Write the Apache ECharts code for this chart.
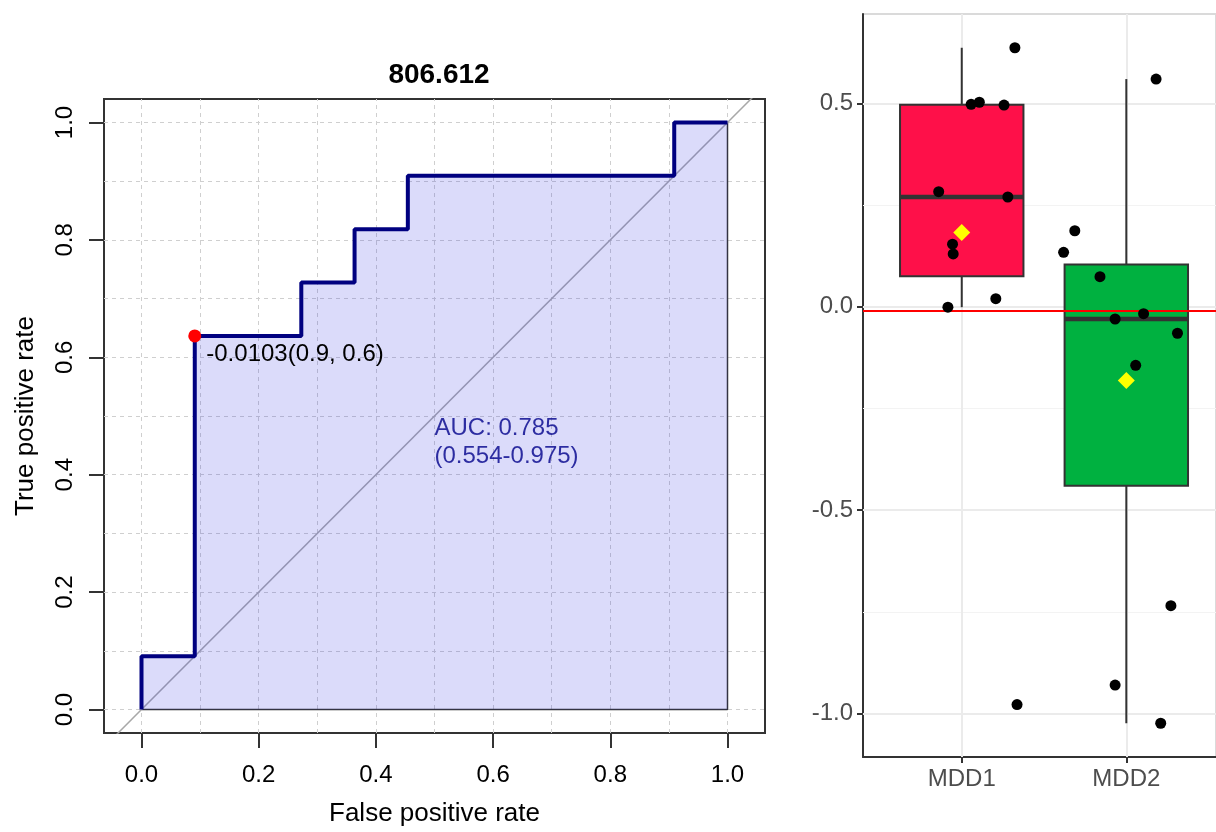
<!DOCTYPE html>
<html>
<head>
<meta charset="utf-8">
<script src="https://cdn.jsdelivr.net/npm/echarts@6/dist/echarts.min.js"></script>
<style>
html,body{margin:0;padding:0;background:#fff;}
#chart{width:1216px;height:832px;}
</style>
</head>
<body>
<div id="chart"></div>
<script>
// ---------- Left panel: ROC curve ----------
const rocTitle = '806.612';
const rocFPR = [0, 0, 0.0909, 0.0909, 0.2727, 0.2727, 0.3636, 0.3636, 0.4545, 0.4545, 0.9091, 0.9091, 1.0];
const rocTPR = [0, 0.0909, 0.0909, 0.6364, 0.6364, 0.7273, 0.7273, 0.8182, 0.8182, 0.9091, 0.9091, 1.0, 1.0];
const bestPoint = [0.0909, 0.6364];
const bestLabel = '-0.0103(0.9, 0.6)';
const aucPos = [0.5, 0.455];
const aucText = 'AUC: 0.785\n(0.554-0.975)';
const rocTicks = [0, 0.2, 0.4, 0.6, 0.8, 1.0];
const rocGridValues = [0, 0.1, 0.2, 0.3, 0.4, 0.5, 0.6, 0.7, 0.8, 0.9, 1.0];
const rocXName = 'False positive rate';
const rocYName = 'True positive rate';

// ---------- Right panel: box plot ----------
const categories = ['MDD1', 'MDD2'];
const boxMin = [-0.001, -1.024];
const boxQ1 = [0.075, -0.440];
const boxMedian = [0.270, -0.030];
const boxQ3 = [0.497, 0.104];
const boxMax = [0.637, 0.560];
const boxMean = [0.183, -0.181];
const boxColors = ['#FE1049', '#00B140'];
const mdd1Jitter = [1.323, 1.057, 1.107, 1.257, 0.860, 1.280, 0.944, 0.948, 0.916, 1.207, 1.336];
const mdd1Values = [0.637, 0.498, 0.503, 0.496, 0.283, 0.270, 0.154, 0.130, -0.001, 0.020, -0.978];
const mdd2Jitter = [2.181, 1.687, 1.619, 1.840, 1.932, 2.105, 2.311, 2.057, 2.271, 1.932, 2.209];
const mdd2Values = [0.560, 0.187, 0.134, 0.074, -0.030, -0.017, -0.065, -0.144, -0.735, -0.930, -1.024];
const threshold = -0.0103;
const boxTicks = [-1.0, -0.5, 0.0, 0.5];
const boxMinorGrid = [-0.75, -0.25, 0.25];

const FONT = 'Liberation Sans, Arial, sans-serif';

const chart = echarts.init(document.getElementById('chart'), null, {renderer: 'canvas'});

const rocData = rocFPR.map((x, i) => [x, rocTPR[i]]);
const last = rocData.length - 1;
const outline = [[rocFPR[0], 0], [rocFPR[last], 0], [rocFPR[last], rocTPR[last]]];

const rocGridLines = [];
rocGridValues.forEach(v => {
  rocGridLines.push({xAxis: v});
  rocGridLines.push({yAxis: v});
});

const boxData = categories.map((c, i) => [i + 1, boxMin[i], boxQ1[i], boxMedian[i], boxQ3[i], boxMax[i]]);
const jitterData = mdd1Jitter.map((x, i) => [x, mdd1Values[i]])
  .concat(mdd2Jitter.map((x, i) => [x, mdd2Values[i]]));
const meanData = boxMean.map((m, i) => [i + 1, m]);

const rightGridLines = []
  .concat(boxTicks.map(v => ({yAxis: v, lineStyle: {color: '#EBEBEB', width: 2, type: 'solid'}})))
  .concat(boxMinorGrid.map(v => ({yAxis: v, lineStyle: {color: '#F3F3F3', width: 1, type: 'solid'}})))
  .concat(categories.map((c, i) => ({xAxis: i + 1, lineStyle: {color: '#EBEBEB', width: 2, type: 'solid'}})));

const option = {
  animation: false,
  backgroundColor: '#ffffff',
  textStyle: {fontFamily: FONT},
  title: {
    text: rocTitle,
    left: 434,
    top: 56,
    textAlign: 'center',
    textStyle: {fontFamily: FONT, fontSize: 28, fontWeight: 'bold', color: '#000'}
  },
  grid: [
    {left: 104, top: 99, width: 661, height: 634, show: true, borderColor: '#333', borderWidth: 2, backgroundColor: 'transparent', containLabel: false},
    {left: 863, top: 14, right: -3, bottom: 75, show: true, borderColor: '#DADADA', borderWidth: 2, backgroundColor: 'transparent', containLabel: false}
  ],
  xAxis: [
    {
      gridIndex: 0, type: 'value', min: -0.064, max: 1.064, position: 'bottom',
      name: rocXName, nameLocation: 'middle', nameGap: 68,
      nameTextStyle: {fontFamily: FONT, fontSize: 26, color: '#000'},
      axisLine: {show: false, onZero: false},
      axisTick: {show: true, customValues: rocTicks, length: 15, lineStyle: {color: '#333', width: 2}},
      axisLabel: {show: true, customValues: rocTicks, margin: 30, fontFamily: FONT, fontSize: 24, color: '#000', formatter: v => v.toFixed(1)},
      splitLine: {show: false}
    },
    {
      gridIndex: 1, type: 'value', min: 0.4, max: 2.545, position: 'bottom',
      axisLine: {show: true, onZero: false, lineStyle: {color: '#333', width: 2}},
      axisTick: {show: true, customValues: [1, 2], length: 6, lineStyle: {color: '#333', width: 2}},
      axisLabel: {show: true, customValues: [1, 2], margin: 10, fontFamily: FONT, fontSize: 24, color: '#4D4D4D', formatter: v => categories[Math.round(v) - 1] || ''},
      splitLine: {show: false}
    }
  ],
  yAxis: [
    {
      gridIndex: 0, type: 'value', min: -0.04, max: 1.04, position: 'left',
      name: rocYName, nameLocation: 'middle', nameGap: 65, nameRotate: 90,
      nameTextStyle: {fontFamily: FONT, fontSize: 26, color: '#000'},
      axisLine: {show: false, onZero: false},
      axisTick: {show: true, customValues: rocTicks, length: 15, lineStyle: {color: '#333', width: 2}},
      axisLabel: {show: true, customValues: rocTicks, rotate: 90, margin: 27, fontFamily: FONT, fontSize: 24, color: '#000', formatter: v => v.toFixed(1)},
      splitLine: {show: false}
    },
    {
      gridIndex: 1, type: 'value', min: -1.107, max: 0.72, position: 'left',
      axisLine: {show: true, onZero: false, lineStyle: {color: '#333', width: 2}},
      axisTick: {show: true, customValues: boxTicks, length: 6, lineStyle: {color: '#333', width: 2}},
      axisLabel: {show: true, customValues: boxTicks, margin: 10, fontFamily: FONT, fontSize: 24, color: '#4D4D4D', formatter: v => v.toFixed(1)},
      splitLine: {show: false}
    }
  ],
  series: [
    // ROC grid (dotted)
    {
      type: 'line', xAxisIndex: 0, yAxisIndex: 0, data: [], z: 1, silent: true,
      markLine: {
        z: 1, silent: true, symbol: 'none', label: {show: false}, animation: false,
        lineStyle: {color: '#CFCFCF', width: 1, type: [4, 4]},
        data: rocGridLines
      }
    },
    // ROC area + curve
    {
      type: 'line', xAxisIndex: 0, yAxisIndex: 0, data: rocData, z: 3,
      showSymbol: false, symbol: 'none', smooth: false,
      lineStyle: {color: '#000080', width: 4},
      areaStyle: {color: 'rgb(55,55,225)', opacity: 0.18, origin: 'auto'}
    },
    // polygon outline
    {
      type: 'line', xAxisIndex: 0, yAxisIndex: 0, data: outline, z: 2,
      showSymbol: false, symbol: 'none',
      lineStyle: {color: '#333', width: 1.5}
    },
    // diagonal
    {
      type: 'line', xAxisIndex: 0, yAxisIndex: 0, data: [[-0.2, -0.2], [1.2, 1.2]], z: 2,
      showSymbol: false, symbol: 'none', clip: true,
      lineStyle: {color: '#A8A8A8', width: 1.5}
    },
    // best threshold point
    {
      type: 'scatter', xAxisIndex: 0, yAxisIndex: 0, data: [bestPoint], z: 4,
      symbol: 'circle', symbolSize: 13, itemStyle: {color: '#FF0000', opacity: 1},
      label: {show: true, position: 'right', distance: 5, offset: [0, 18], formatter: bestLabel,
        fontFamily: FONT, fontSize: 24, color: '#000'}
    },
    // AUC text
    {
      type: 'scatter', xAxisIndex: 0, yAxisIndex: 0, data: [aucPos], z: 4,
      symbolSize: 0, itemStyle: {color: 'transparent'},
      label: {show: true, position: 'right', distance: 0, formatter: aucText,
        fontFamily: FONT, fontSize: 24, lineHeight: 28, color: '#00008B', align: 'left'}
    },
    // right grid lines
    {
      type: 'line', xAxisIndex: 1, yAxisIndex: 1, data: [], z: 1, silent: true,
      markLine: {
        z: 1, silent: true, symbol: 'none', label: {show: false}, animation: false,
        data: rightGridLines
      }
    },
    // boxes
    {
      type: 'custom', xAxisIndex: 1, yAxisIndex: 1, z: 2,
      encode: {x: 0, y: [1, 2, 3, 4, 5]},
      data: boxData,
      renderItem: function (params, api) {
        const x = api.value(0);
        const pLo = api.coord([x, api.value(1)]);
        const pQ1 = api.coord([x, api.value(2)]);
        const pMed = api.coord([x, api.value(3)]);
        const pQ3 = api.coord([x, api.value(4)]);
        const pHi = api.coord([x, api.value(5)]);
        const halfW = api.size([0.75, 0])[0] / 2;
        const color = boxColors[params.dataIndex];
        return {
          type: 'group',
          children: [
            {type: 'line', shape: {x1: pHi[0], y1: pHi[1], x2: pQ3[0], y2: pQ3[1]}, style: {stroke: '#333', lineWidth: 2}},
            {type: 'line', shape: {x1: pLo[0], y1: pLo[1], x2: pQ1[0], y2: pQ1[1]}, style: {stroke: '#333', lineWidth: 2}},
            {type: 'rect', shape: {x: pQ3[0] - halfW, y: pQ3[1], width: halfW * 2, height: pQ1[1] - pQ3[1]},
              style: {fill: color, stroke: '#333', lineWidth: 2}},
            {type: 'line', shape: {x1: pMed[0] - halfW, y1: pMed[1], x2: pMed[0] + halfW, y2: pMed[1]},
              style: {stroke: '#333', lineWidth: 4.5}}
          ]
        };
      }
    },
    // threshold line
    {
      type: 'line', xAxisIndex: 1, yAxisIndex: 1, data: [], z: 3, silent: true,
      markLine: {
        z: 3, silent: true, symbol: 'none', label: {show: false}, animation: false,
        lineStyle: {color: '#FF0000', width: 2, type: 'solid'},
        data: [{yAxis: threshold}]
      }
    },
    // jitter points
    {
      type: 'scatter', xAxisIndex: 1, yAxisIndex: 1, data: jitterData, z: 4,
      symbol: 'circle', symbolSize: 11, itemStyle: {color: '#000', opacity: 1}
    },
    // means
    {
      type: 'scatter', xAxisIndex: 1, yAxisIndex: 1, data: meanData, z: 5,
      symbol: 'diamond', symbolSize: 17, itemStyle: {color: '#FFFF00', opacity: 1}
    }
  ]
};

chart.setOption(option);
</script>
</body>
</html>
